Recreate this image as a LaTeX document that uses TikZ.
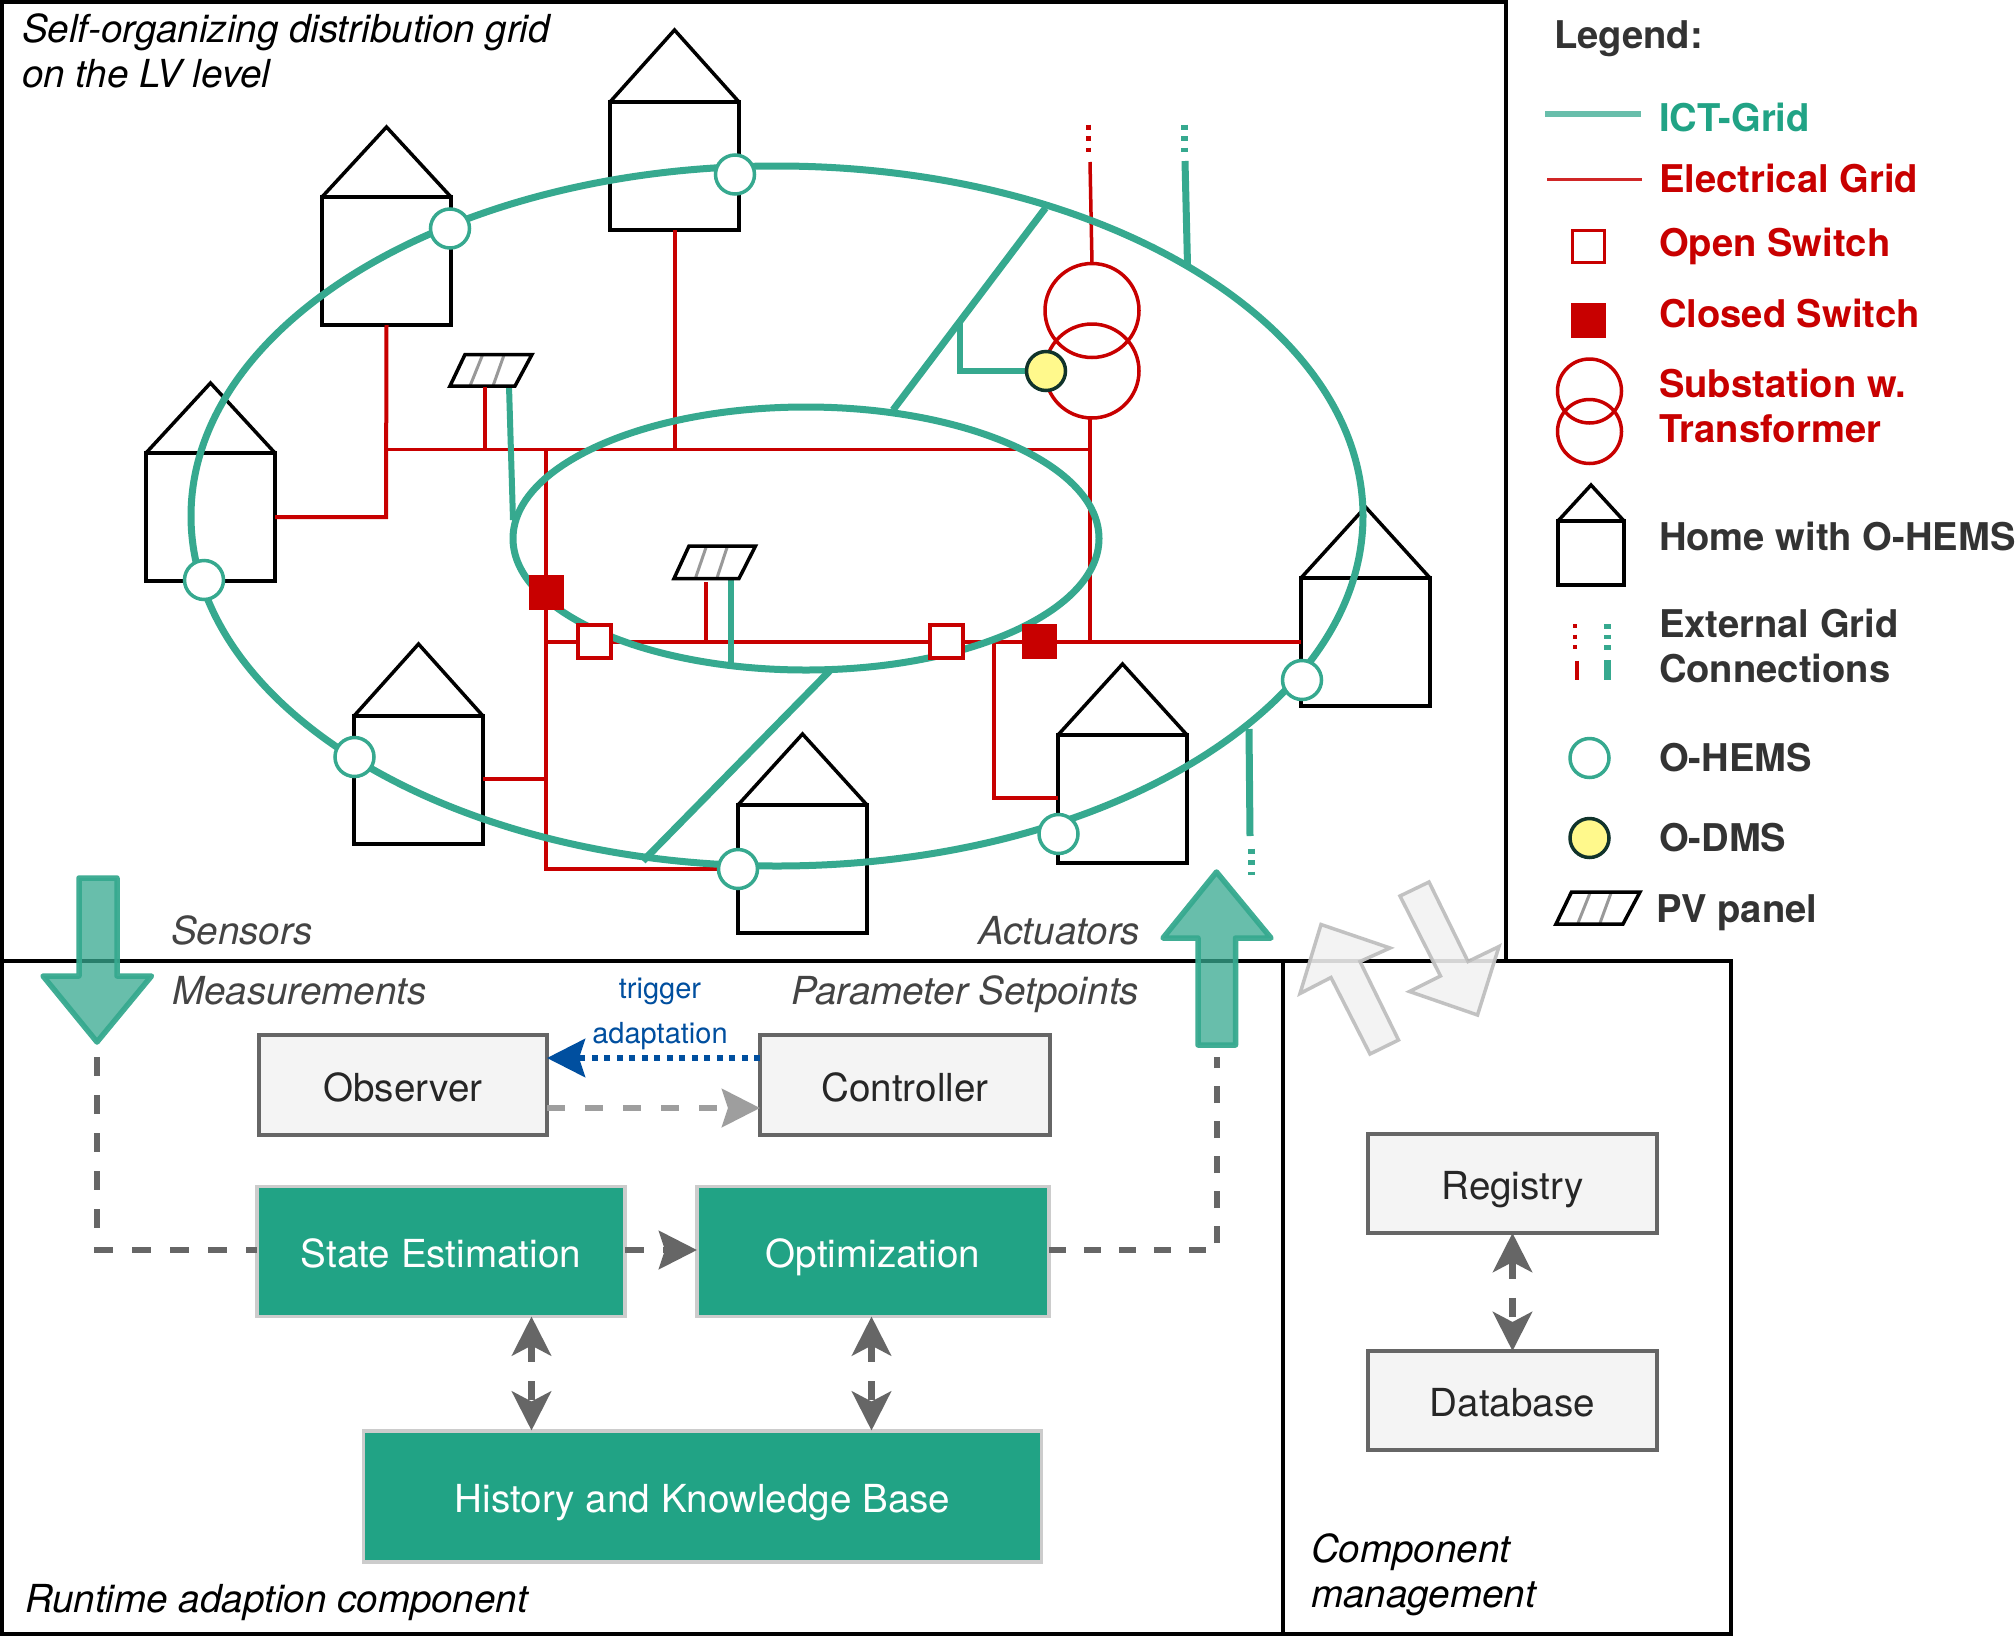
\documentclass[tikz,border=0pt]{standalone}
\usepackage{fontspec}
\setmainfont{TeX Gyre Heros}
\usetikzlibrary{arrows.meta,shapes.geometric,calc}
\definecolor{ict}{HTML}{36A98F}
\definecolor{ictfill}{HTML}{21A385}
\definecolor{elec}{HTML}{C80000}
\definecolor{boxline}{HTML}{666666}
\definecolor{boxfill}{HTML}{F4F4F4}
\definecolor{darktext}{HTML}{333333}
\definecolor{cap}{HTML}{444444}
\definecolor{trig}{HTML}{004F9F}
\pgfdeclarelayer{houselayer}
\pgfdeclarelayer{redlayer}
\pgfdeclarelayer{teallayer}
\pgfsetlayers{houselayer,redlayer,teallayer,main}
\tikzset{
  x=1pt,y=-1pt,
  every node/.style={inner sep=0pt,outer sep=0pt},
  txt/.style={font=\fontsize{38.6}{45}\selectfont},
  frame/.style={draw=black,line width=3.8pt},
  homebody/.style={draw=black,line width=3.5pt,rectangle,minimum width=129pt,minimum height=128pt},
  roofline/.style={draw=black,line width=3.5pt,line join=miter},
  redline/.style={draw=elec,line width=4pt},
  tealline/.style={draw=ict,line width=7pt},
  hems/.style={circle,draw=ict,fill=white,line width=3.5pt,minimum size=39pt},
  dms/.style={circle,draw=black!70!ict,fill=yellow!45,line width=3.5pt,minimum size=39pt},
  openswitch/.style={rectangle,draw=elec,fill=white,line width=3.5pt,minimum size=33pt},
  closedswitch/.style={rectangle,fill=elec,minimum size=35pt},
  pvbody/.style={draw=black,line width=3.5pt},
  pvbar/.style={draw=black!40,line width=3pt},
  lightbox/.style={txt,rectangle,draw=boxline,fill=boxfill,line width=3.5pt,text=black!85,text height=32pt,text depth=0pt},
  tealbox/.style={txt,rectangle,draw=black!20,fill=ictfill,line width=3.5pt,text=white,text height=32pt,text depth=0pt},
  bigarrow/.style={draw=ict,fill=ict,fill opacity=0.75,draw opacity=0.95,line width=5.5pt,line join=round},
  ghostarrow/.style={draw=black!25,fill=black!5,fill opacity=0.88,draw opacity=0.95,line width=3.5pt,line join=miter},
  flow/.style={draw=boxline,line width=6.5pt,dash pattern=on 19pt off 19pt},
  twoway/.style={flow,color=boxline,line width=7pt,arrows={{Stealth[length=39pt,width=39pt,inset=10pt]}-{Stealth[length=39pt,width=39pt,inset=10pt]}}},
  captxt/.style={anchor=base west,text=cap,font=\fontsize{38.6}{45}\selectfont\itshape},
  titletxt/.style={text=black,font=\fontsize{38.6}{45}\selectfont\itshape},
  legdark/.style={anchor=base west,text=darktext,font=\fontsize{38.2}{45}\selectfont\bfseries},
  legred/.style={anchor=base west,text=elec,font=\fontsize{38.2}{45}\selectfont\bfseries},
  legdark2/.style={anchor=north west,align=left,text=darktext,font=\fontsize{38.2}{45}\selectfont\bfseries},
  legred2/.style={anchor=north west,align=left,text=elec,font=\fontsize{38.2}{45}\selectfont\bfseries},
}
\newcommand{\homeat}[4]{% name, left, base y, apex y
  \node[homebody,anchor=north west] (#1) at (#2,#3) {};
  \draw[roofline] (#1.north west) -- ($(#1.north)+(0,#4-#3)$) -- (#1.north east);
}
\begin{document}
\begin{tikzpicture}
\useasboundingbox (0,0) rectangle (2016,1636);

\begin{pgfonlayer}{houselayer}
  \fill[white] (0,0) rectangle (2016,1636);
  \draw[frame] (2,2) rectangle (1506,961);
  \draw[frame] (2,961) rectangle (1283,1634);
  \draw[frame] (1283,961) rectangle (1731,1634);
  \homeat{hA}{610}{102}{30}
  \homeat{hB}{322}{197}{127}
  \homeat{hC}{146}{453}{383}
  \homeat{hD}{354}{716}{644}
  \homeat{hE}{738}{805}{734}
  \homeat{hF}{1058}{735}{664}
  \homeat{hG}{1301}{578}{507}
\end{pgfonlayer}

% nodes on top
\node[hems] (cA) at (735,174.5) {};
\node[hems] (cB) at (450,228.5) {};
\node[hems] (cC) at (204,580) {};
\node[hems] (cD) at (354.5,757) {};
\node[hems] (cE) at (738,869) {};
\node[hems] (cF) at (1058.5,834) {};
\node[hems] (cG) at (1302,680) {};
\node[dms] (odms) at (1046,371) {};
\node[closedswitch] (swA) at (546.5,592) {};
\node[closedswitch] (swB) at (1039,641.5) {};
\node[openswitch] (swC) at (594.5,641.5) {};
\node[openswitch] (swD) at (946.5,641.5) {};

\coordinate (busL) at (386,449.5);
\coordinate (busR) at (1090,449.5);
\coordinate (busM) at (546,449.5);
\coordinate (lowL) at (546,641.5);
\coordinate (lowR) at (1090,641.5);
\coordinate (lowS) at (994,641.5);
\coordinate (cornerE) at (546,869);
\coordinate (stubD) at (546,779);
\coordinate (cornerC) at (386,517);
\coordinate (cornerF) at (994,797.5);
\coordinate (hAbus) at (674.5,449.5);

\begin{pgfonlayer}{redlayer}
  \draw[redline,line width=3.5pt] (busL) -- (busR);
  \draw[redline] (hA.south) -- (hAbus);
  \draw[redline] (hB.south) -- (cornerC) -- (hC.east |- cornerC);
  \draw[redline] (busM) -- (cornerE) -- (cE.west);
  \draw[redline] (stubD) -- (hD.east |- stubD);
  \draw[redline] (lowL) -- (hG.west |- lowL);
  \draw[redline] (lowS) -- (cornerF) -- (hF.west |- cornerF);
  \draw[redline] (1090,418.5) -- (lowR);
  % transformer
  \node[circle,draw=elec,line width=3.5pt,minimum size=94pt] (trU) at (1092,310.5) {};
  \node[circle,draw=elec,line width=3.5pt,minimum size=94pt] (trL) at (1092,371) {};
  \coordinate (extRtop) at (1090,162);
  \draw[redline,line width=3.5pt] (extRtop) -- (trU.north);
  \draw[redline,line width=5pt,dash pattern=on 5pt off 6.5pt] (1088.5,124.5) -- (1088.5,152);
\end{pgfonlayer}

\begin{pgfonlayer}{teallayer}
  \node[ellipse,draw=ict,line width=7pt,minimum width=1172pt,minimum height=700pt] (outer) at (777,516) {};
  \node[ellipse,draw=ict,line width=7pt,minimum width=586pt,minimum height=263pt] (inner) at (806,538.5) {};
  \coordinate (lA) at (1045.5,208);
  \coordinate (lB) at (893,410);
  \draw[tealline] (lA) -- (lB);
  \coordinate (brA) at (960,322);
  \draw[tealline,line width=6pt] (brA) |- (odms.west);
  \coordinate (lC) at (830.5,670);
  \coordinate (lD) at (643,861);
  \draw[tealline] (lC) -- (lD);
  \coordinate (extTtop) at (1185,161);
  \coordinate (extTlow) at (1187.5,265);
  \draw[tealline] (extTtop) -- (extTlow);
  \draw[tealline,dash pattern=on 5pt off 6.5pt] (1184,124.5) -- (1184,152);
  \coordinate (extBtop) at (1249,729);
  \coordinate (extBlow) at (1250,836);
  \draw[tealline] (extBtop) -- (extBlow);
  \draw[tealline,dash pattern=on 5pt off 6.5pt] (1251,848.5) -- (1251,875);
  % PV connections
  \coordinate (pvAt) at (509,386);
  \coordinate (pvAb) at (513,520);
  \draw[tealline,line width=6pt] (pvAt) -- (pvAb);
  \coordinate (pvBt) at (730.5,579);
  \coordinate (pvBb) at (730.5,665);
  \draw[tealline,line width=6pt] (pvBt) -- (pvBb);
\end{pgfonlayer}

% PV panels
\draw[pvbar] (482.5,355) -- (470,386) (504,355) -- (493,386);
\draw[pvbody] (465,354.5) -- (532,354.5) -- (515,386) -- (450,386) -- cycle;
\coordinate (pvAr) at (485,387);
\coordinate (pvAbus) at (485,449.5);
\draw[redline] (pvAr) -- (pvAbus);
\draw[pvbar] (706.5,546) -- (695.5,578) (727.5,546) -- (717,578);
\draw[pvbody] (689,546) -- (755.5,546) -- (739,578.5) -- (674,578.5) -- cycle;
\coordinate (pvBr) at (706,582);
\coordinate (pvBbus) at (706,641.5);
\draw[redline] (pvBr) -- (pvBbus);

% Boxes
\node[lightbox,minimum width=288pt,minimum height=100pt] (obs) at (403,1085) {Observer};
\node[lightbox,minimum width=290pt,minimum height=100pt] (ctl) at (905,1085) {Controller};
\node[tealbox,minimum width=368pt,minimum height=130pt] (se) at (441,1251.5) {State Estimation};
\node[tealbox,minimum width=352pt,minimum height=130pt] (opt) at (873,1251.5) {Optimization};
\node[tealbox,minimum width=678pt,minimum height=131pt] (hist) at (702.5,1496.5) {History and Knowledge Base};
\node[lightbox,minimum width=289pt,minimum height=99pt] (reg) at (1512.5,1183.5) {Registry};
\node[lightbox,minimum width=289pt,minimum height=99pt] (db) at (1512.5,1400.5) {Database};

% Big arrows
\draw[bigarrow] (79,878) -- (117,878) -- (117,976) -- (151.5,976) -- (97,1042) -- (43,976) -- (79,976) -- cycle;
\draw[bigarrow] (1216.5,872) -- (1271,938) -- (1235.5,938) -- (1235.5,1045) -- (1198,1045) -- (1198,938) -- (1163,938) -- cycle;
\draw[ghostarrow] (1321,924.5) -- (1390,948) -- (1360,961.5) -- (1398.5,1040) -- (1370,1054) -- (1331,977.5) -- (1300,993.5) -- cycle;
\draw[ghostarrow] (1400,896) -- (1429,882) -- (1468,961.5) -- (1499,946.5) -- (1477.5,1015) -- (1409.5,991.5) -- (1440.5,976) -- cycle;

% Flow connectors
\coordinate (trigObs) at (obs.east |- 0,1058);
\coordinate (trigCtl) at (ctl.west |- 0,1058);
\draw[draw=trig,line width=6pt,dash pattern=on 6pt off 6.5pt,arrows={-{Stealth[length=38pt,width=38pt,inset=6pt,fill=trig]}},color=trig] (trigCtl) -- (trigObs);
\coordinate (obsOut) at (obs.east |- 0,1108);
\coordinate (ctlIn) at (ctl.west |- 0,1108);
\draw[draw=black!38,color=black!38,line width=6.5pt,dash pattern=on 18pt off 20pt,arrows={-{Stealth[length=38pt,width=38pt,inset=6pt]}}] (obsOut) -- (ctlIn);
\coordinate (dnEnd) at (97,1057);
\coordinate (cornerSE) at (97,1250);
\coordinate (seIn) at (se.west |- 0,1250);
\draw[flow] (dnEnd) -- (cornerSE) -- (seIn);
\coordinate (seOut) at (se.east |- 0,1250);
\coordinate (optIn) at (opt.west |- 0,1250);
\draw[flow,color=boxline,arrows={-{Stealth[length=38pt,width=38pt,inset=6pt]}}] (seOut) -- (optIn);
\coordinate (optOut) at (opt.east |- 0,1250);
\coordinate (cornerOpt) at (1217,1250);
\coordinate (upEnd) at (1217,1057);
\draw[flow,dash pattern=on 17pt off 18pt] (optOut) -- (cornerOpt) -- (upEnd);
\coordinate (seDown) at (531.5,1316.5);
\coordinate (histL) at (531.5,1430.5);
\draw[twoway] (seDown) -- (histL);
\coordinate (optDown) at (871.5,1316.5);
\coordinate (histR) at (871.5,1430.5);
\draw[twoway] (optDown) -- (histR);
\draw[twoway] (reg.south) -- (db.north);

% Texts
\node[titletxt,anchor=north west,align=left] (title) at (22,14) {Self-organizing distribution grid\\on the LV level};
\node[captxt] (tSens) at (171,944) {Sensors};
\node[captxt] (tMeas) at (172,1004) {Measurements};
\node[captxt,anchor=base east] (tAct) at (1140,944) {Actuators};
\node[captxt,anchor=base east] (tPar) at (1139,1004) {Parameter Setpoints};
\node[anchor=base,text=trig,font=\fontsize{29}{34}\selectfont] (tTrig) at (660,998) {trigger};
\node[anchor=base,text=trig,font=\fontsize{29}{34}\selectfont] (tAdap) at (660,1043) {adaptation};
\node[titletxt,anchor=base west] (tRun) at (25,1612) {Runtime adaption component};
\node[titletxt,anchor=north west,align=left] (tComp) at (1311,1534) {Component\\management};

% Legend
\node[legdark] (lgT) at (1554,48.5) {Legend:};
\coordinate (lgIa) at (1545,114);
\coordinate (lgIb) at (1641,114);
\draw[draw=ict!75,line width=6.5pt] (lgIa) -- (lgIb);
\node[anchor=base west,text=ictfill,font=\fontsize{38.2}{45}\selectfont\bfseries] (lgI) at (1659,131) {ICT-Grid};
\coordinate (lgEa) at (1547,179.5);
\coordinate (lgEb) at (1642,179.5);
\draw[draw=elec!85,line width=2.5pt] (lgEa) -- (lgEb);
\node[legred] (lgE) at (1659,192.5) {Electrical Grid};
\node[openswitch,minimum size=32pt] (lgOs) at (1588.5,246.5) {};
\node[legred] (lgO) at (1659,256) {Open Switch};
\node[closedswitch] (lgCs) at (1588.5,320) {};
\node[legred] (lgC) at (1659,327) {Closed Switch};
\node[circle,draw=elec,line width=3.5pt,minimum size=64pt] (lgTr1) at (1589.5,391) {};
\node[circle,draw=elec,line width=3.5pt,minimum size=64pt] (lgTr2) at (1589.5,431.5) {};
\node[legred2] (lgS) at (1659,369) {Substation w.\\Transformer};
\node[draw=black,line width=3.5pt,minimum width=66pt,minimum height=64pt] (lgH) at (1591,553) {};
\draw[roofline] (lgH.north west) -- (1591,485) -- (lgH.north east);
\node[legdark] (lgHt) at (1659,550) {Home with O-HEMS};
\coordinate (lgRa) at (1574.5,624);
\coordinate (lgRb) at (1574.5,650);
\draw[redline,dash pattern=on 4pt off 6.5pt] (lgRa) -- (lgRb);
\coordinate (lgRc) at (1577,660.5);
\coordinate (lgRd) at (1577,680);
\draw[redline] (lgRc) -- (lgRd);
\coordinate (lgGa) at (1607,624);
\coordinate (lgGb) at (1607,650);
\draw[tealline,dash pattern=on 4.5pt off 6pt] (lgGa) -- (lgGb);
\coordinate (lgGc) at (1607,660);
\coordinate (lgGd) at (1607,680);
\draw[tealline] (lgGc) -- (lgGd);
\node[legdark2] (lgX) at (1659,609) {External Grid\\Connections};
\node[hems] (lgHe) at (1589.5,758) {};
\node[legdark] (lgHm) at (1659,771) {O-HEMS};
\node[dms] (lgDm) at (1589.5,838) {};
\node[legdark] (lgDt) at (1659,851) {O-DMS};
\draw[pvbar] (1590,893) -- (1578,923) (1611,893) -- (1600,923);
\draw[pvbody] (1571.5,892) -- (1640,892) -- (1623,924) -- (1556,924) -- cycle;
\node[legdark] (lgPv) at (1656,922.5) {PV panel};
\end{tikzpicture}
\end{document}
